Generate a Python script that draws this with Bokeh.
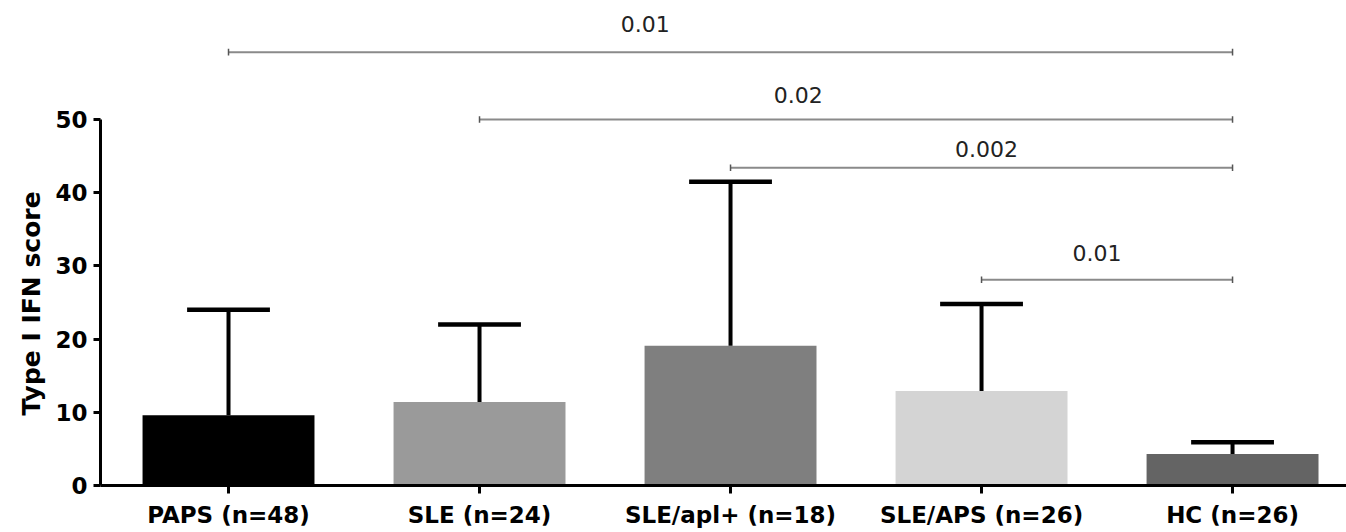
from bokeh.plotting import figure
from bokeh.models import FixedTicker, Range1d, Title
from bokeh.core.properties import value
from bokeh.embed import file_html
from bokeh.resources import INLINE

# ---- data ----
groups = ["PAPS (n=48)", "SLE (n=24)", "SLE/apl+ (n=18)", "SLE/APS (n=26)", "HC (n=26)"]
means = [9.6, 11.4, 19.1, 12.9, 4.3]
upper = [24.0, 22.0, 41.5, 24.8, 5.9]
colors = ["#000000", "#9a9a9a", "#7f7f7f", "#d4d4d4", "#646464"]

cmp_from = [0, 1, 2, 3]
cmp_to = [4, 4, 4, 4]
cmp_y = [59.2, 50.0, 43.4, 28.1]
p_values = ["0.01", "0.02", "0.002", "0.01"]
p_label_x = [1.66, 2.27, 3.02, 3.46]
p_label_y = [63.1, 53.3, 46.0, 31.8]

y_ticks = [0, 10, 20, 30, 40, 50]
y_title = "Type I IFN score"

# ---- figure ----
FONT = "DejaVu Sans"
xs = list(range(len(groups)))

p = figure(width=1346, height=532, output_backend="svg", toolbar_location=None,
           x_range=Range1d(-0.51, 4.454), y_range=Range1d(0, 65.16),
           min_border_left=100, min_border_right=0, min_border_top=8, min_border_bottom=47)
p.outline_line_color = None
p.grid.visible = False
p.background_fill_color = "white"

p.vbar(x=xs, top=means, bottom=0, width=0.685, fill_color=colors, line_color=None)

# error bars (upper only)
p.segment(x0=xs, y0=means, x1=xs, y1=upper, line_color="black", line_width=4)
cap = 0.165
p.segment(x0=[x - cap for x in xs], y0=upper, x1=[x + cap for x in xs], y1=upper,
          line_color="black", line_width=4.5)

# significance brackets
p.segment(x0=cmp_from, y0=cmp_y, x1=cmp_to, y1=cmp_y, line_color="#8a8a8a", line_width=2)
ends_x = cmp_from + cmp_to
ends_y = cmp_y + cmp_y
p.segment(x0=ends_x, y0=[y - 0.45 for y in ends_y], x1=ends_x, y1=[y + 0.45 for y in ends_y],
          line_color="#555555", line_width=1.5)
p.text(x=p_label_x, y=p_label_y, text=p_values, text_font=value(FONT), text_font_size="22px",
       text_color="#222222", text_align="center", text_baseline="middle")

# axes
for ax in (p.xaxis[0], p.yaxis[0]):
    ax.axis_line_width = 3
    ax.axis_line_color = "black"
    ax.major_tick_line_width = 3
    ax.major_tick_line_color = "black"
    ax.major_tick_out = 8
    ax.major_tick_in = 0
    ax.minor_tick_line_color = None
    ax.major_label_text_font = FONT
    ax.major_label_text_font_style = "bold"
    ax.major_label_text_font_size = "23px"
    ax.major_label_text_color = "black"

p.xaxis.ticker = FixedTicker(ticks=xs)
p.xaxis.major_label_overrides = {i: g for i, g in enumerate(groups)}
p.xaxis.major_label_standoff = 8

p.yaxis.ticker = FixedTicker(ticks=y_ticks)
p.yaxis.bounds = (0, 50)
p.yaxis.major_tick_out = 7
p.yaxis.major_label_standoff = 6

# y-axis title, placed alongside the 0-50 span of the axis
p.add_layout(Title(text=y_title, align="left", offset=70, text_font=FONT,
                   text_font_style="bold", text_font_size="25px", text_color="black",
                   standoff=14), "left")

open("out.html", "w").write(file_html(p, INLINE))
